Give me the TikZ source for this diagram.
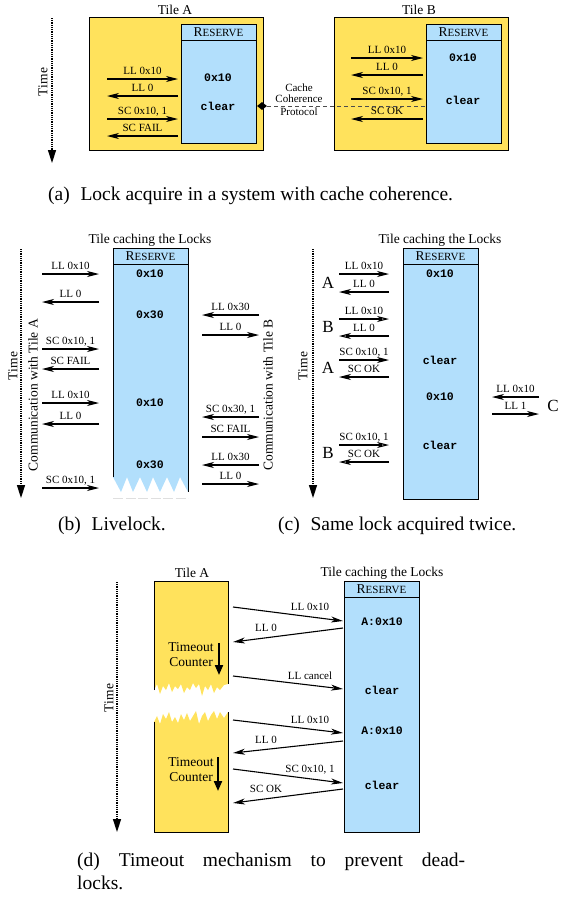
\documentclass[tikz,border=0pt]{standalone}
\usepackage{fontspec}
\setmainfont{Liberation Serif}
\setmonofont{Liberation Mono}
\usetikzlibrary{arrows.meta,shapes.geometric}
\definecolor{tileyellow}{RGB}{255,226,92}
\definecolor{resblue}{RGB}{178,223,252}
% small-caps style title of the reservation table
\newcommand\reservetitle{{\fontsize{13.5}{14}\selectfont R}{\fontsize{11}{12}\selectfont ESERVE}}
% message arrow: name, tip style, start, end, label, label placement
\newcommand\msgarrow[6]{%
  \coordinate (#1s) at #3;
  \coordinate (#1e) at #4;
  \draw[#2] (#1s) -- node[lbl,#6] (#1l) {#5} (#1e);
}
\begin{document}
\begin{tikzpicture}[x=1pt,y=-1pt,
  lbl/.style={font=\fontsize{11}{12}\selectfont, inner sep=0pt, text height=7.5pt, text depth=2pt},
  ttl/.style={font=\fontsize{13.5}{15}\selectfont, inner sep=0pt},
  val/.style={font=\fontsize{11.5}{12}\selectfont\ttfamily\bfseries, inner sep=0pt},
  big/.style={font=\fontsize{17}{18}\selectfont, inner sep=0pt},
  captext/.style={font=\fontsize{19.5}{24}\selectfont, inner sep=0pt, anchor=base west},
  tilebox/.style={draw=black, fill=tileyellow, line width=1pt, inner sep=0pt, outer sep=0pt, anchor=north west},
  resbox/.style={draw=black, fill=resblue, line width=1pt, inner sep=0pt, outer sep=0pt, anchor=north west, minimum width=75pt},
  reshead/.style={resbox, minimum height=16.5pt},
  msg/.style={line width=1.1pt, -{Stealth[length=12pt,width=6pt,inset=3.5pt]}},
  msgo/.style={line width=1.1pt, -{Stealth[open,fill=white,length=12pt,width=6pt,inset=3.5pt]}},
  timeaxis/.style={line width=1.5pt, dash pattern=on 0.9pt off 0.9pt, -{Triangle[length=13pt,width=8pt]}},
  counter/.style={line width=2pt, -{Triangle[length=10pt,width=8pt]}},
  hmid/.style={midway, above=2pt},
  slope/.style={pos=0.7, above=3.5pt},
]
\useasboundingbox (0,0) rectangle (561,897);

%% ---------- (a) cache coherence ----------
\coordinate (taA) at (52,18);
\coordinate (taB) at (52,163);
\draw[timeaxis] (taA) -- (taB);
\node[ttl, rotate=90] (timea) at (43,82) {Time};

\node[ttl] (tileAt) at (175,10) {Tile A};
\node[tilebox, minimum width=174pt, minimum height=133pt] (tileA) at (89,17) {};
\node[resbox, minimum height=119pt] (resA) at (181,24) {};
\node[reshead] (resAh) at (181,24) {\reservetitle};
\node[val] (vA1) at (218,78) {0x10};
\node[val] (vA2) at (218,106) {clear};
\msgarrow{aa1}{msg}{(107,79)}{(178,79)}{LL 0x10}{hmid}
\msgarrow{aa2}{msg}{(178,96)}{(107,96)}{LL 0}{hmid}
\msgarrow{aa3}{msg}{(107,119)}{(178,119)}{SC 0x10, 1}{hmid}
\msgarrow{aa4}{msg}{(178,136)}{(107,136)}{SC FAIL}{hmid}

\node[ttl] (tileBt) at (419,10) {Tile B};
\node[tilebox, minimum width=174pt, minimum height=133pt] (tileB) at (334,17) {};
\node[resbox, minimum height=119pt] (resB) at (426,24) {};
\node[reshead] (resBh) at (426,24) {\reservetitle};
\node[val] (vB1) at (463,58) {0x10};
\node[val] (vB2) at (463,100) {clear};
\msgarrow{ab1}{msg}{(351,58)}{(423,58)}{LL 0x10}{hmid}
\msgarrow{ab2}{msg}{(423,75)}{(351,75)}{LL 0}{hmid}
\msgarrow{ab3}{msg}{(351,99)}{(423,99)}{SC 0x10, 1}{hmid}
\msgarrow{ab4}{msg}{(423,119)}{(351,119)}{SC OK}{hmid}

\node[diamond, fill=black, inner sep=0pt, minimum width=10pt, minimum height=8pt] (dia) at (262,106) {};
\draw[gray!60!black, line width=1pt, dash pattern=on 4pt off 3pt] (dia.east) -- (resB.west |- dia);
\node[font=\fontsize{11}{11}\selectfont, inner sep=0pt, align=center] (ccp) at (299,100) {Cache\\Coherence\\[2pt]Protocol};

\node[captext] (capa) at (48,200) {(a)\hspace{0.55em}Lock acquire in a system with cache coherence.};

%% ---------- (b) livelock ----------
\coordinate (tbA) at (21,249);
\coordinate (tbB) at (21,498);
\draw[timeaxis] (tbA) -- (tbB);
\node[ttl, rotate=90] (timeb) at (13,366) {Time};
\node[ttl, rotate=90] (comA) at (33,395) {Communication with Tile A};
\node[ttl, rotate=90] (comB) at (268,395) {Communication with Tile B};

\node[ttl] (titb) at (150,240) {Tile caching the Locks};
\fill[resblue] (113,248) -- (188,248) -- (188,492) -- (180,477) -- (174,492) -- (167,477)
  -- (160,492) -- (153,477) -- (147,492) -- (140,477) -- (133,492) -- (127,477)
  -- (121,492) -- (113,477) -- cycle;
\draw[line width=1pt] (113,477) -- (113,248) -- (188,248) -- (188,492);
\draw[gray!25, line width=0.8pt, dash pattern=on 10pt off 2.5pt] (113,498) -- (188,498);
\node[reshead] (resbh) at (113,248) {\reservetitle};
\node[val] (vb1) at (150,274) {0x10};
\node[val] (vb2) at (150,315) {0x30};
\node[val] (vb3) at (150,403) {0x10};
\node[val] (vb4) at (150,465) {0x30};

\msgarrow{ba1}{msg}{(42,274)}{(99,274)}{LL 0x10}{hmid}
\msgarrow{ba2}{msg}{(99,302)}{(42,302)}{LL 0}{hmid}
\msgarrow{ba3}{msg}{(42,349)}{(99,349)}{SC 0x10, 1}{hmid}
\msgarrow{ba4}{msg}{(99,369)}{(42,369)}{SC FAIL}{hmid}
\msgarrow{ba5}{msg}{(42,403)}{(99,403)}{LL 0x10}{hmid}
\msgarrow{ba6}{msg}{(99,424)}{(42,424)}{LL 0}{hmid}
\msgarrow{ba7}{msg}{(42,488)}{(99,488)}{SC 0x10, 1}{hmid}

\msgarrow{bb1}{msg}{(259,315)}{(202,315)}{LL 0x30}{hmid}
\msgarrow{bb2}{msg}{(202,335)}{(259,335)}{LL 0}{hmid}
\msgarrow{bb3}{msg}{(259,417)}{(202,417)}{SC 0x30, 1}{hmid}
\msgarrow{bb4}{msg}{(202,437)}{(259,437)}{SC FAIL}{hmid}
\msgarrow{bb5}{msg}{(259,465)}{(202,465)}{LL 0x30}{hmid}
\msgarrow{bb6}{msg}{(202,484)}{(259,484)}{LL 0}{hmid}

\node[captext] (capb) at (58,530) {(b)\hspace{0.55em}Livelock.};

%% ---------- (c) same lock acquired twice ----------
\coordinate (tcA) at (313,249);
\coordinate (tcB) at (313,498);
\draw[timeaxis] (tcA) -- (tcB);
\node[ttl, rotate=90] (timec) at (303,366) {Time};

\node[ttl] (titc) at (440,240) {Tile caching the Locks};
\node[resbox, minimum height=251pt] (resc) at (403,248) {};
\node[reshead] (resch) at (403,248) {\reservetitle};
\node[val] (vc1) at (440,274) {0x10};
\node[val] (vc2) at (440,360) {clear};
\node[val] (vc3) at (440,397) {0x10};
\node[val] (vc4) at (440,445) {clear};

\node[big] (cA1) at (328,283) {A};
\msgarrow{ca1}{msg}{(339,274)}{(389,274)}{LL 0x10}{hmid}
\msgarrow{ca2}{msg}{(389,292)}{(339,292)}{LL 0}{hmid}
\node[big] (cB1) at (328,327) {B};
\msgarrow{cb1}{msgo}{(339,319)}{(389,319)}{LL 0x10}{hmid}
\msgarrow{cb2}{msgo}{(389,336)}{(339,336)}{LL 0}{hmid}
\node[big] (cA2) at (328,368) {A};
\msgarrow{ca3}{msg}{(339,360)}{(389,360)}{SC 0x10, 1}{hmid}
\msgarrow{ca4}{msg}{(389,377)}{(339,377)}{SC OK}{hmid}
\node[big] (cB2) at (328,453) {B};
\msgarrow{cb3}{msgo}{(339,445)}{(389,445)}{SC 0x10, 1}{hmid}
\msgarrow{cb4}{msgo}{(389,462)}{(339,462)}{SC OK}{hmid}
\node[big] (cC) at (553,406) {C};
\msgarrow{cc1}{msg}{(539,397)}{(492,397)}{LL 0x10}{hmid}
\msgarrow{cc2}{msg}{(492,414)}{(539,414)}{LL 1}{hmid}

\node[captext] (capc) at (278,530) {(c)\hspace{0.55em}Same lock acquired twice.};

%% ---------- (d) timeout mechanism ----------
\coordinate (tdA) at (117,582);
\coordinate (tdB) at (117,832);
\draw[timeaxis] (tdA) -- (tdB);
\node[ttl, rotate=90] (timed) at (109,698) {Time};

\node[ttl] (tileDt) at (192,573) {Tile A};
% upper part of the tile, torn at the bottom
\fill[tileyellow] (154,581) -- (228,581) -- (228,684) -- (224,685) -- (220,690) -- (217,687)
  -- (214,693) -- (211,684) -- (208,690) -- (205,686) -- (202,696) -- (199,684) -- (196,688)
  -- (193,683) -- (190,690) -- (187,687) -- (184,693) -- (181,684) -- (178,689) -- (175,686)
  -- (172,692) -- (169,683) -- (166,690) -- (163,686) -- (160,694) -- (157,684) -- (154,690) -- cycle;
\draw[line width=1pt] (154,690) -- (154,581) -- (228,581) -- (228,684);
% lower part of the tile, torn at the top
\fill[tileyellow] (154,722) -- (157,716) -- (160,724) -- (163,714) -- (166,719) -- (169,712)
  -- (172,722) -- (175,717) -- (178,723) -- (181,714) -- (184,720) -- (187,713) -- (190,721)
  -- (193,716) -- (196,711) -- (199,724) -- (202,716) -- (205,712) -- (208,721) -- (211,715)
  -- (214,711) -- (217,719) -- (220,712) -- (224,718) -- (228,712) -- (228,832) -- (154,832) -- cycle;
\draw[line width=1pt] (228,712) -- (228,832) -- (154,832) -- (154,722);

\node[ttl, align=center] (tc1) at (191,655) {Timeout\\Counter};
\coordinate (ca1t) at (219,643);
\coordinate (ca1b) at (219,675);
\draw[counter] (ca1t) -- (ca1b);
\node[ttl, align=center] (tc2) at (191,770) {Timeout\\Counter};
\coordinate (ca2t) at (218,757);
\coordinate (ca2b) at (218,791);
\draw[counter] (ca2t) -- (ca2b);

\node[ttl] (titd) at (382,573) {Tile caching the Locks};
\node[resbox, minimum height=251pt] (resd) at (344,581) {};
\node[reshead] (resdh) at (344,581) {\reservetitle};
\node[val] (vd1) at (382,622) {A:0x10};
\node[val] (vd2) at (382,690) {clear};
\node[val] (vd3) at (382,731) {A:0x10};
\node[val] (vd4) at (382,785) {clear};

\msgarrow{d1}{msg}{(233,607)}{(343,621)}{LL 0x10}{slope}
\msgarrow{d2}{msg}{(343,628)}{(233,642)}{LL 0}{slope}
\msgarrow{d3}{msg}{(233,676)}{(343,689)}{LL cancel}{slope}
\msgarrow{d4}{msg}{(233,720)}{(343,733)}{LL 0x10}{slope}
\msgarrow{d5}{msg}{(343,741)}{(233,753)}{LL 0}{slope}
\msgarrow{d6}{msg}{(233,769)}{(343,783)}{SC 0x10, 1}{slope}
\msgarrow{d7}{msg}{(343,789)}{(233,803)}{SC OK}{slope}

\node[captext] (capd1) at (77,866) {\makebox[388pt][s]{(d) Timeout mechanism to prevent dead-}};
\node[captext] (capd2) at (77,889) {locks.};
\end{tikzpicture}
\end{document}
